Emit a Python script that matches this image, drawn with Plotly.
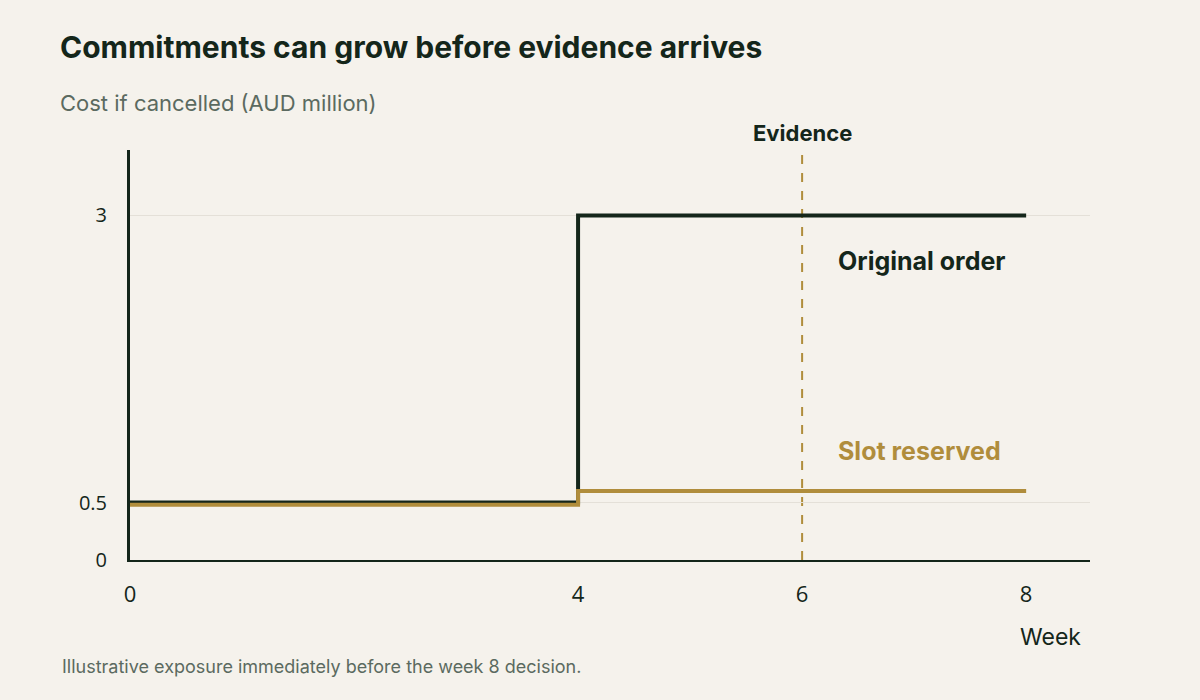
import plotly.graph_objects as go

# data
weeks = [0, 4, 8]
original_order = [0.5, 3, 3]
slot_reserved = [0.48, 0.6, 0.6]
evidence_week = 6
x_ticks = [0, 4, 6, 8]
y_ticks = [0, 0.5, 3]
y_tick_text = ["0", "0.5", "3"]

dark = "#14261a"
gold = "#b08d3c"
bg = "#f5f2ec"
grey = "#5b6a60"

fig = go.Figure()

fig.add_trace(go.Scatter(x=weeks, y=original_order, mode="lines", line_shape="hv",
                         line=dict(color=dark, width=4), hoverinfo="skip"))
fig.add_trace(go.Scatter(x=weeks, y=slot_reserved, mode="lines", line_shape="hv",
                         line=dict(color=gold, width=4), hoverinfo="skip"))

# evidence marker
fig.add_shape(type="line", x0=evidence_week, x1=evidence_week, y0=0, y1=1, yref="paper",
              line=dict(color=gold, width=2, dash="dash"), layer="below")
fig.add_annotation(x=evidence_week, y=1, yref="paper", yanchor="bottom", yshift=2,
                   text="<b>Evidence</b>", showarrow=False,
                   font=dict(family="Inter", size=22, color=dark))

# direct labels
fig.add_annotation(x=6.3, y=2.6, xanchor="left", text="<b>Original order</b>", showarrow=False,
                   font=dict(family="Inter", size=25, color=dark))
fig.add_annotation(x=6.3, y=0.95, xanchor="left", text="<b>Slot reserved</b>", showarrow=False,
                   font=dict(family="Inter", size=25, color=gold))

fig.update_layout(
    width=1200, height=700,
    paper_bgcolor=bg, plot_bgcolor=bg,
    margin=dict(l=130, r=110, t=150, b=140),
    showlegend=False,
    title=dict(text="<b>Commitments can grow before evidence arrives</b>",
               x=60 / 1200, xanchor="left", y=1 - 47 / 700, yanchor="middle",
               font=dict(family="Inter", size=30, color=dark)),
    xaxis=dict(range=[0, 8.57], tickvals=x_ticks, showgrid=False, zeroline=False,
               showline=True, linecolor=dark, linewidth=2, ticks="",
               ticklabelstandoff=14,
               tickfont=dict(family="Open Sans", size=22, color=dark)),
    yaxis=dict(range=[0, 3.57], tickvals=y_ticks, ticktext=y_tick_text,
               showgrid=True, gridcolor="#e4e0d8", gridwidth=1, zeroline=False,
               showline=True, linecolor=dark, linewidth=3, ticks="",
               ticklabelstandoff=16,
               tickfont=dict(family="Open Sans", size=20, color=dark)),
)

fig.add_annotation(x=-72 / 960, xref="paper", y=1 + 47 / 410, yref="paper",
                   xanchor="left", yanchor="middle", showarrow=False,
                   text="Cost if cancelled (AUD million)",
                   font=dict(family="Inter", size=22, color=grey))
fig.add_annotation(x=1, xref="paper", y=-77 / 410, yref="paper", xanchor="center",
                   yanchor="middle", xshift=-40, showarrow=False, text="Week",
                   font=dict(family="Inter", size=23, color=dark))
fig.add_annotation(x=-70 / 960, xref="paper", y=-106 / 410, yref="paper",
                   xanchor="left", yanchor="middle", showarrow=False,
                   text="Illustrative exposure immediately before the week 8 decision.",
                   font=dict(family="Inter", size=18, color=grey))

fig.write_html("out.html", config={"displayModeBar": False},
               post_script="document.body.style.margin='0';")
